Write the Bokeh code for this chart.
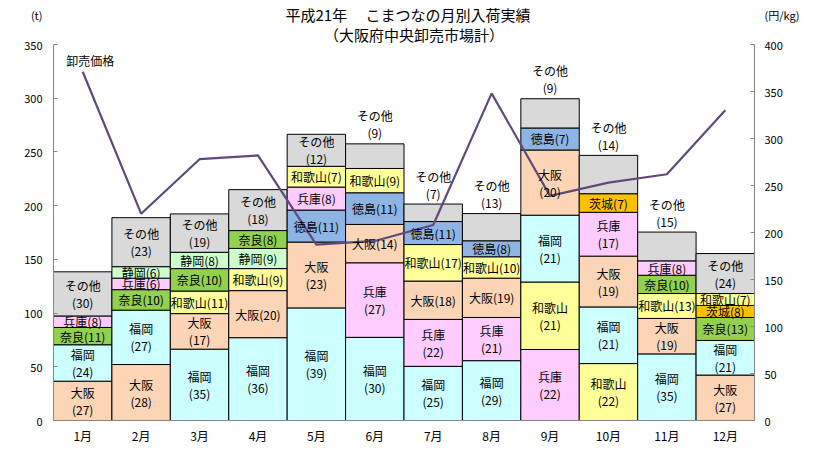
from bokeh.plotting import figure
from bokeh.models import Range1d, LinearAxis, FactorRange, FixedTicker, Label, ColumnDataSource
from bokeh.embed import file_html
from bokeh.resources import INLINE
from bokeh.core.properties import value

# ---------------- data ----------------
months = ["1月", "2月", "3月", "4月", "5月", "6月", "7月", "8月", "9月", "10月", "11月", "12月"]

# monthly arrivals (t); None = not shown that month
osaka_t     = [36.6, 52.1, 33.1, 43.8, 61.3, 35.7, 35.7, 36.6, 60.7, 47.3, 33.0, 42.3]
fukuoka_t   = [33.9, 50.6, 66.4, 77.1, 104.8, 77.4, 50.4, 55.7, 62.2, 52.7, 62.0, 32.2]
nara_t      = [16.1, 19.1, 20.9, 16.6, None, None, None, None, None, None, 17.0, 21.4]
hyogo_t     = [10.7, 10.7, None, None, 21.4, 69.4, 43.7, 40.2, 66.1, 40.8, 13.4, None]
shizuoka_t  = [None, 10.7, 15.2, 18.8, None, None, None, None, None, None, None, None]
wakayama_t  = [None, None, 21.0, 20.5, 19.3, 22.6, 34.0, 19.9, 62.8, 53.0, 23.2, 11.1]
tokushima_t = [None, None, None, None, 29.8, 29.5, 21.4, 14.9, 20.5, None, None, None]
ibaraki_t   = [None, None, None, None, None, None, None, None, None, 17.3, None, 11.2]
other_t     = [41.1, 45.6, 35.7, 38.1, 29.8, 22.9, 16.3, 25.3, 27.2, 35.7, 26.8, 37.2]

# share (%) printed in brackets
osaka_pct     = [27, 28, 17, 20, 23, 14, 18, 19, 20, 19, 19, 27]
fukuoka_pct   = [24, 27, 35, 36, 39, 30, 25, 29, 21, 21, 35, 21]
nara_pct      = [11, 10, 10, 8, None, None, None, None, None, None, 10, 13]
hyogo_pct     = [8, 6, None, None, 8, 27, 22, 21, 22, 17, 8, None]
shizuoka_pct  = [None, 6, 8, 9, None, None, None, None, None, None, None, None]
wakayama_pct  = [None, None, 11, 9, 7, 9, 17, 10, 21, 22, 13, 7]
tokushima_pct = [None, None, None, None, 11, 11, 11, 8, 7, None, None, None]
ibaraki_pct   = [None, None, None, None, None, None, None, None, None, 7, None, 8]
other_pct     = [30, 23, 19, 18, 12, 9, 7, 13, 9, 14, 15, 24]

# wholesale price (円/kg)
price = [371, 220, 278, 282, 187, 191, 208, 348, 239, 253, 262, 330]

# stacking order (bottom -> top) per month
stack_order = [
    ["大阪", "福岡", "奈良", "兵庫", "その他"],
    ["大阪", "福岡", "奈良", "兵庫", "静岡", "その他"],
    ["福岡", "大阪", "和歌山", "奈良", "静岡", "その他"],
    ["福岡", "大阪", "和歌山", "静岡", "奈良", "その他"],
    ["福岡", "大阪", "徳島", "兵庫", "和歌山", "その他"],
    ["福岡", "兵庫", "大阪", "徳島", "和歌山", "その他"],
    ["福岡", "兵庫", "大阪", "和歌山", "徳島", "その他"],
    ["福岡", "兵庫", "大阪", "和歌山", "徳島", "その他"],
    ["兵庫", "和歌山", "福岡", "大阪", "徳島", "その他"],
    ["和歌山", "福岡", "大阪", "兵庫", "茨城", "その他"],
    ["福岡", "大阪", "和歌山", "奈良", "兵庫", "その他"],
    ["大阪", "福岡", "奈良", "茨城", "和歌山", "その他"],
]
inline_labels = [("4月", "大阪"), ("6月", "大阪"), ("7月", "大阪"), ("8月", "大阪"), ("7月", "和歌山")]
other_above_months = ["6月", "7月", "8月", "9月", "10月", "11月"]

tonnage = {"大阪": osaka_t, "福岡": fukuoka_t, "奈良": nara_t, "兵庫": hyogo_t, "静岡": shizuoka_t,
           "和歌山": wakayama_t, "徳島": tokushima_t, "茨城": ibaraki_t, "その他": other_t}
share = {"大阪": osaka_pct, "福岡": fukuoka_pct, "奈良": nara_pct, "兵庫": hyogo_pct, "静岡": shizuoka_pct,
         "和歌山": wakayama_pct, "徳島": tokushima_pct, "茨城": ibaraki_pct, "その他": other_pct}
colors = {"大阪": "#FBD5B5", "福岡": "#CCFFFF", "奈良": "#92D050", "兵庫": "#FFCCFF", "静岡": "#CCFFCC",
          "和歌山": "#FFFF99", "徳島": "#8DB4E2", "茨城": "#FFC000", "その他": "#D9D9D9"}

left_ticks = [0, 50, 100, 150, 200, 250, 300, 350]
right_ticks = [0, 50, 100, 150, 200, 250, 300, 350, 400]
left_unit, right_unit = "(t)", "(円/kg)"

FONT = "Noto Sans CJK JP"

# ---------------- build glyph tables ----------------
bx, bb, bt, bc = [], [], [], []
tx, ty, tt, to = [], [], [], []
for i, m in enumerate(months):
    cum = 0.0
    for name in stack_order[i]:
        v = tonnage[name][i]
        pct = share[name][i]
        bx.append(m); bb.append(cum); bt.append(cum + v); bc.append(colors[name])
        mid = cum + v / 2.0
        top = cum + v
        if name == "その他" and m in other_above_months:
            tx += [m, m]; ty += [top, top]; tt += [name, f"({pct})"]; to += [-28, -11]
        elif name == "その他" or (v >= 32 and (m, name) not in inline_labels):
            tx += [m, m]; ty += [mid, mid]; tt += [name, f"({pct})"]; to += [-8.5, 8.5]
        else:
            tx.append(m); ty.append(mid); tt.append(f"{name}({pct})"); to.append(0)
        cum = top

bars = ColumnDataSource(dict(x=bx, bottom=bb, top=bt, color=bc))
texts = ColumnDataSource(dict(x=tx, y=ty, text=tt, yo=to))

# ---------------- figure ----------------
W, H = 802, 446
BL, BR, BB = 53, 45, 26
FRAME_H = H - BB
FRAME_W = W - BL - BR
px_per_t = (FRAME_H - 44) / 350.0
y_end = FRAME_H / px_per_t
p_end = y_end * 400 / 350
cat_w = FRAME_W / len(months)

def y_at(row):
    # pixel row (from the top of the figure) -> left-axis units
    return (FRAME_H - row) / px_per_t

def x_at(col):
    # pixel column (from the left of the figure) -> category units
    return (col - BL) / cat_w

p = figure(x_range=FactorRange(*months, range_padding=0), y_range=Range1d(0, y_end),
           width=W, height=H, output_backend="svg", toolbar_location=None,
           min_border_left=BL, min_border_right=BR, min_border_top=0, min_border_bottom=BB)
p.extra_y_ranges = {"price": Range1d(0, p_end)}
p.outline_line_color = None
p.xgrid.visible = False
p.ygrid.visible = False
p.background_fill_color = "white"

p.vbar(x="x", bottom="bottom", top="top", width=1.0, fill_color="color",
       line_color="black", line_width=1, source=bars)
p.line(x=months, y=price, y_range_name="price", line_color="#604A7B", line_width=2.2)
p.text(x="x", y="y", text="text", y_offset="yo", text_align="center", text_baseline="middle",
       text_font=value(FONT), text_font_size="12px", text_color="black", source=texts)

AX = "#868686"
# axis lines + inner ticks (labels switched off)
ya = p.yaxis[0]
ya.ticker = FixedTicker(ticks=left_ticks)
ya.bounds = (0, 350)
right = LinearAxis(y_range_name="price", ticker=FixedTicker(ticks=right_ticks), bounds=(0, 400))
p.add_layout(right, "right")
for ax in (ya, right):
    ax.axis_label = None
    ax.axis_line_color = AX
    ax.major_tick_line_color = AX
    ax.major_tick_in = 4
    ax.major_tick_out = 0
    ax.minor_tick_line_color = None
    ax.major_label_standoff = 0
    ax.major_label_text_color = None

# label axes (numbers + unit caption), just outside the line axes
l_unit_pos = round(y_at(15))
r_unit_pos = round(y_at(15) * 400 / 350)
lab_left = LinearAxis(ticker=FixedTicker(ticks=left_ticks + [l_unit_pos]), bounds=(0, l_unit_pos + 3),
                      major_label_overrides={l_unit_pos: left_unit})
lab_right = LinearAxis(y_range_name="price", ticker=FixedTicker(ticks=right_ticks + [r_unit_pos]),
                       bounds=(0, r_unit_pos + 3), major_label_overrides={r_unit_pos: right_unit})
p.add_layout(lab_left, "left")
p.add_layout(lab_right, "right")
for ax, so in ((lab_left, 11), (lab_right, 10)):
    ax.axis_label = None
    ax.axis_line_color = None
    ax.major_tick_line_color = None
    ax.minor_tick_line_color = None
    ax.major_tick_in = 0
    ax.major_tick_out = 0
    ax.major_label_standoff = so
    ax.major_label_text_font = FONT
    ax.major_label_text_font_size = "11px"
    ax.major_label_text_color = "black"

xa = p.xaxis[0]
xa.axis_label = None
xa.axis_line_color = AX
xa.major_tick_line_color = None
xa.major_tick_in = 0
xa.major_tick_out = 0
xa.major_label_standoff = 6
xa.major_label_text_font = FONT
xa.major_label_text_font_size = "12px"
xa.major_label_text_color = "black"

def lab(x, y, text, size="12px", align="center"):
    p.add_layout(Label(x=x, y=y, text=text, text_align=align, text_baseline="middle",
                       text_font=FONT, text_font_size=size, text_color="black"))

lab(x_at(409), y_at(14), "平成21年　 こまつなの月別入荷実績", "15px")
lab(x_at(415), y_at(34), "（大阪府中央卸売市場計）", "15px")
lab(x_at(90), y_at(60), "卸売価格", "12px")

open("out.html", "w").write(file_html(p, INLINE))
